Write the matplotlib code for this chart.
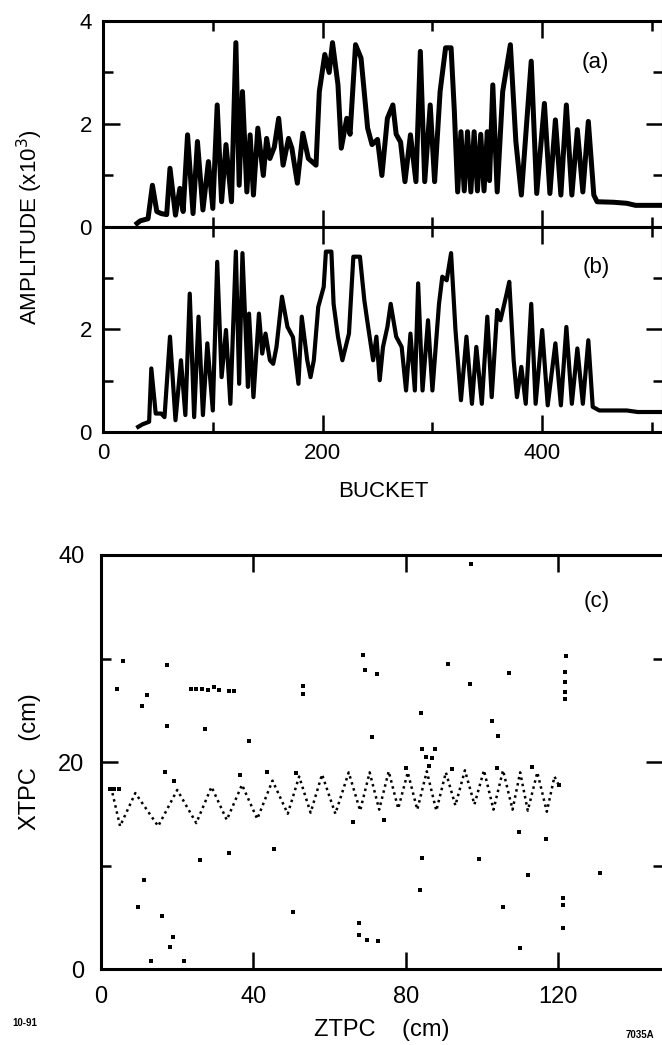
import matplotlib
matplotlib.use("Agg")
import matplotlib.pyplot as plt
from matplotlib.ticker import MultipleLocator

plt.rcParams['font.family'] = ['Liberation Sans', 'DejaVu Sans']

# panel (a): amplitude vs bucket (peaks / valleys)
bucket_a = [31, 34, 41, 45, 49, 53, 58, 61, 66, 70, 73, 77, 82, 86, 91, 96, 100, 104, 108,
            112, 117, 121, 124, 127, 131, 134, 137, 141, 146, 149, 152, 156, 160, 164, 169,
            172, 177, 182, 187, 194, 197, 202, 206, 209, 214, 217, 222, 225, 230, 235, 241,
            245, 250, 254, 259, 264, 267, 271, 275, 280, 285, 289, 293, 298, 302, 307, 312,
            317, 320, 323, 326, 329, 332, 335, 338, 341, 344, 347, 350, 352, 355, 359, 364,
            371, 376, 381, 390, 395, 402, 407, 412, 417, 422, 427, 432, 437, 442, 447, 450,
            465, 477, 485, 510]
amp_a = [0.07, 0.12, 0.16, 0.81, 0.30, 0.26, 0.24, 1.14, 0.23, 0.75, 0.30, 1.79, 0.26, 1.66,
         0.33, 1.27, 0.36, 2.37, 0.49, 1.60, 0.49, 3.58, 0.81, 2.63, 0.68, 1.79, 0.62, 1.92,
         1.00, 1.72, 1.33, 1.55, 2.11, 1.20, 1.72, 1.53, 0.85, 1.82, 1.33, 1.20, 2.63, 3.35,
         3.00, 3.58, 2.76, 1.53, 2.11, 1.80, 3.54, 3.28, 1.92, 1.60, 1.70, 1.00, 2.11, 2.37,
         1.80, 1.65, 0.88, 1.79, 0.88, 3.41, 0.88, 2.37, 0.88, 2.63, 3.48, 3.48, 2.24, 0.68,
         1.85, 0.70, 1.85, 0.68, 1.85, 0.70, 1.80, 0.70, 1.85, 0.90, 2.76, 0.68, 2.63, 3.54,
         1.66, 0.62, 3.22, 0.65, 2.40, 0.65, 2.08, 0.62, 2.37, 0.62, 1.89, 0.68, 2.05, 0.62,
         0.49, 0.48, 0.46, 0.42, 0.42]

# panel (b)
bucket_b = [32, 36, 42, 44, 48, 53, 56, 61, 66, 71, 75, 79, 83, 87, 91, 95, 100, 104, 108,
            112, 116, 121, 124, 127, 132, 133, 137, 142, 145, 148, 152, 155, 158, 163, 168,
            173, 178, 181, 186, 189, 192, 196, 201, 203, 208, 210, 214, 218, 221, 224, 228,
            234, 238, 241, 246, 249, 252, 255, 259, 262, 267, 272, 276, 280, 284, 287, 291,
            296, 300, 306, 309, 313, 317, 321, 326, 331, 336, 340, 345, 350, 354, 359, 362,
            367, 370, 374, 377, 381, 385, 390, 394, 400, 405, 412, 417, 422, 427, 432, 437,
            442, 446, 452, 477, 487, 510]
amp_b = [0.10, 0.15, 0.20, 1.24, 0.36, 0.36, 0.29, 1.86, 0.23, 1.40, 0.33, 2.70, 0.29, 2.25,
         0.33, 1.73, 0.42, 3.32, 1.07, 1.99, 0.55, 3.52, 0.94, 3.49, 0.88, 2.31, 0.68, 2.31,
         1.53, 1.92, 1.40, 1.33, 1.66, 2.64, 2.05, 1.85, 0.94, 2.25, 1.40, 1.07, 1.40, 2.44,
         2.83, 3.52, 3.52, 2.50, 1.86, 1.40, 1.66, 1.92, 3.42, 3.42, 2.57, 2.12, 1.40, 1.86,
         1.01, 1.66, 2.05, 2.50, 1.86, 1.66, 0.81, 1.92, 0.81, 2.90, 0.81, 2.18, 0.81, 2.50,
         3.03, 2.96, 3.49, 1.99, 0.62, 1.86, 0.55, 1.66, 0.55, 2.25, 0.68, 2.38, 2.18, 2.64,
         2.93, 1.40, 0.68, 1.27, 0.55, 2.50, 0.55, 1.99, 0.52, 1.73, 0.52, 2.05, 0.55, 1.63,
         0.55, 1.79, 0.49, 0.42, 0.42, 0.39, 0.39]

# panel (c): oscillating track (vertices of the zigzag)
track_z = [3, 5, 9, 15, 20, 25, 29, 33, 37, 41, 45, 49, 52, 55, 58, 61.5, 65, 68, 70.5, 73,
           75.5, 78, 80.5, 83, 85.5, 88, 90.5, 93, 95.5, 98, 100.5, 103, 105.5, 108, 110,
           112, 114.5, 117, 119, 120.5]
track_x = [17.0, 13.8, 17.0, 13.8, 17.3, 14.1, 17.6, 14.4, 17.8, 14.5, 18.2, 15.0, 18.6, 15.1,
           18.8, 15.0, 19.0, 15.3, 19.0, 15.4, 19.1, 15.5, 19.0, 15.4, 19.1, 15.3, 19.0, 15.8,
           19.2, 15.9, 19.2, 15.4, 19.2, 15.4, 19.0, 15.3, 19.0, 15.2, 18.6, 17.5]

# panel (c): isolated hits
hit_z = [2.4, 3.5, 4.6, 5.7, 4.3, 17.2, 12.0, 10.8, 17.2, 27.3, 23.5, 25.0, 26.5, 28.0, 29.7,
         31.0, 33.5, 35.0, 38.8, 52.9, 52.9, 68.7, 69.2, 72.3, 71.2, 91.0, 96.8, 107.1, 84.0,
         102.5, 104.1, 84.3, 87.7, 85.2, 86.9, 122.1, 121.7, 121.7, 121.7, 121.7, 97.2, 66.1,
         74.2, 109.7, 116.9, 84.3, 99.2, 112.1, 33.5, 45.5, 25.9, 11.3, 9.6, 16.1, 19.0, 18.0,
         13.2, 21.8, 50.3, 83.8, 67.8, 67.8, 69.9, 72.8, 105.4, 110.0, 121.2, 121.2, 121.2,
         131.0, 16.8, 19.1, 36.4, 43.6, 51.3, 80.0, 86.0, 92.0, 104.0, 113.0, 120.2]
hit_x = [17.4, 17.4, 17.4, 29.8, 27.1, 29.4, 26.5, 25.4, 23.5, 23.2, 27.1, 27.1, 27.1, 27.0,
         27.2, 27.0, 26.9, 26.9, 22.0, 27.3, 26.6, 30.3, 28.9, 28.5, 22.4, 29.5, 27.5, 28.6,
         24.7, 24.0, 22.5, 21.3, 21.3, 20.5, 20.4, 30.2, 28.7, 27.7, 26.8, 26.1, 39.1, 14.2,
         14.4, 13.2, 12.6, 10.7, 10.6, 9.1, 11.2, 11.6, 10.5, 8.6, 6.0, 5.1, 3.1, 2.1, 0.8,
         0.8, 5.5, 7.6, 4.4, 3.3, 2.8, 2.7, 6.0, 2.0, 6.9, 6.2, 4.0, 9.3, 19.0, 18.2, 18.7,
         19.0, 18.9, 19.4, 19.6, 19.3, 19.4, 19.5, 17.8]

fig = plt.figure(figsize=(6.62, 10.45), dpi=100)
ax_a = fig.add_axes([0.1556, 0.7828, 0.8459, 0.1971])
ax_b = fig.add_axes([0.1556, 0.5866, 0.8459, 0.1962])
ax_c = fig.add_axes([0.1526, 0.0727, 0.8490, 0.3962])

for ax in (ax_a, ax_b, ax_c):
    for s in ax.spines.values():
        s.set_linewidth(2.2)
    ax.tick_params(which='both', direction='in', top=True, right=True, width=1.8,
                   labelsize=16, pad=8)
    ax.tick_params(which='major', length=12)
    ax.tick_params(which='minor', length=7)

ax_a.plot(bucket_a, amp_a, color='black', lw=3.6, solid_joinstyle='round')
ax_b.plot(bucket_b, amp_b, color='black', lw=3.0, solid_joinstyle='round')

for ax in (ax_a, ax_b):
    ax.set_xlim(0, 510)
    ax.set_ylim(0, 4)
    ax.xaxis.set_major_locator(MultipleLocator(200))
    ax.xaxis.set_minor_locator(MultipleLocator(100))
    ax.yaxis.set_major_locator(MultipleLocator(2))
    ax.yaxis.set_minor_locator(MultipleLocator(1))

ax_a.set_xticklabels([])
ax_a.set_yticks([0, 2, 4])
ax_b.set_yticks([0, 2, 4], ['0', '2', ''])
ax_b.set_xlabel('BUCKET', fontsize=16, labelpad=12)

ax_a.text(0.88, 0.80, '(a)', fontsize=16, ha='center', va='center', transform=ax_a.transAxes)
ax_b.text(0.88, 0.80, '(b)', fontsize=16, ha='center', va='center', transform=ax_b.transAxes)

fig.text(0.045, 1 - 227 / 1045, 'AMPLITUDE (x10$^3$)', rotation=90, fontsize=16,
         ha='center', va='center')

ax_c.plot(track_z, track_x, color='black', lw=1.8, linestyle=(0, (1, 1.5)))
ax_c.scatter(hit_z, hit_x, s=5, color='black', marker='s', linewidths=0)
ax_c.set_xlim(0, 147.5)
ax_c.set_ylim(0, 40)
ax_c.xaxis.set_major_locator(MultipleLocator(40))
ax_c.yaxis.set_major_locator(MultipleLocator(20))
ax_c.yaxis.set_minor_locator(MultipleLocator(10))
ax_c.tick_params(labelsize=17, pad=12)
ax_c.set_xlabel('ZTPC    (cm)', fontsize=17, labelpad=8)
ax_c.text(130, 35.5, '(c)', fontsize=16, ha='center', va='center')
fig.text(0.045, 1 - 762 / 1045, 'XTPC    (cm)', rotation=90, fontsize=17,
         ha='center', va='center')

fig.text(12 / 662, 1 - 1023 / 1045, '10-91', fontsize=7, fontweight='bold', va='center')
fig.text(626 / 662, 1 - 1035 / 1045, '7035A', fontsize=7, fontweight='bold', va='center')

fig.savefig('out.png', dpi=100)
